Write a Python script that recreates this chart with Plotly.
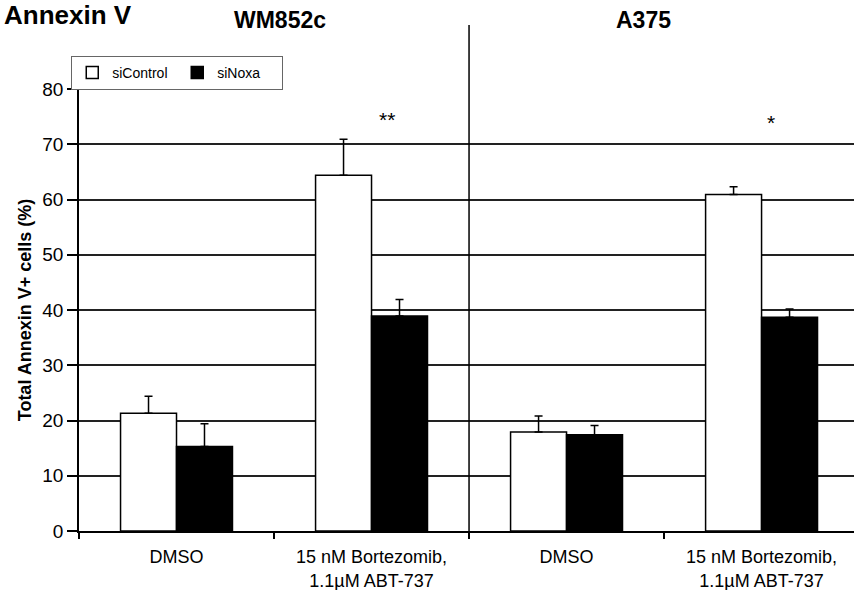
import plotly.graph_objects as go

categories = ["DMSO", "15 nM Bortezomib,<br>1.1µM ABT-737", "DMSO", "15 nM Bortezomib,<br>1.1µM ABT-737"]
si_control = [21.3, 64.4, 17.9, 60.9]
si_control_err = [3.1, 6.5, 2.9, 1.4]
si_noxa = [15.3, 38.9, 17.4, 38.7]
si_noxa_err = [4.1, 3.0, 1.7, 1.5]
y_ticks = [0, 10, 20, 30, 40, 50, 60, 70, 80]
cell_lines = ["WM852c", "A375"]
significance = ["**", "*"]
sig_y = [74.4, 74.0]

x = list(range(len(categories)))
FONT = "Liberation Sans, Arial, sans-serif"

fig = go.Figure()
fig.add_trace(go.Bar(
    name="siControl", x=x, y=si_control,
    marker=dict(color="white", line=dict(color="black", width=1.5)),
    error_y=dict(type="data", symmetric=False, array=si_control_err,
                 arrayminus=[0] * len(x), color="black", thickness=1.5, width=4),
))
fig.add_trace(go.Bar(
    name="siNoxa", x=x, y=si_noxa,
    marker=dict(color="black", line=dict(color="black", width=1.5)),
    error_y=dict(type="data", symmetric=False, array=si_noxa_err,
                 arrayminus=[0] * len(x), color="black", thickness=1.5, width=4),
))

# significance markers
for xi, s, yv in zip([1.077, 3.05], significance, sig_y):
    fig.add_annotation(x=xi, y=yv, text=s, showarrow=False, xref="x", yref="y",
                       font=dict(size=21, color="black", family=FONT))

# divider between cell lines
fig.add_shape(type="line", xref="x", yref="paper", x0=1.5, x1=1.5, y0=-0.01, y1=1.145,
              line=dict(color="black", width=1.5))

# titles
fig.add_annotation(text="<b>Annexin V</b>", xref="paper", yref="paper",
                   x=-0.099, y=1.168, xanchor="left", yanchor="middle", showarrow=False,
                   font=dict(size=26, color="black", family=FONT))
for xc, name in zip([0.53, 2.395], cell_lines):
    fig.add_annotation(text=f"<b>{name}</b>", xref="x", yref="paper",
                       x=xc, y=1.155, xanchor="center", yanchor="middle", showarrow=False,
                       font=dict(size=23, color="black", family=FONT))

fig.update_layout(
    width=854, height=590,
    margin=dict(l=79, r=0, t=89, b=59),
    paper_bgcolor="white", plot_bgcolor="white",
    barmode="group", bargap=0.426, bargroupgap=0,
    font=dict(family=FONT, color="black", size=14),
    showlegend=True,
    legend=dict(orientation="h", x=-0.01, y=1.075, xanchor="left", yanchor="top",
                bgcolor="white", bordercolor="#666", borderwidth=1,
                font=dict(size=14, family=FONT), itemwidth=30, entrywidth=60,
                tracegroupgap=0),
    xaxis=dict(range=[-0.5, 3.474], tickvals=x, ticktext=categories, ticks="outside",
               ticklen=9, tickcolor="rgba(0,0,0,0)",
               showline=True, linecolor="black", linewidth=1.5, showgrid=False,
               zeroline=False, tickfont=dict(size=18),
               minor=dict(tickvals=[-0.5, 0.5, 1.5, 2.5], ticks="outside", ticklen=6,
                          tickcolor="black", tickwidth=1.5, showgrid=False)),
    yaxis=dict(range=[0, 80], tickvals=y_ticks, ticks="outside", ticklen=10,
               tickcolor="black", tickwidth=1.5, showline=True, linecolor="black",
               linewidth=1.5, showgrid=True, gridcolor="#222", gridwidth=1.5,
               zeroline=False, tickfont=dict(size=19),
               title=dict(text="<b>Total Annexin V+ cells (%)</b>", font=dict(size=18),
                          standoff=6)),
)

fig.write_html("out.html")
